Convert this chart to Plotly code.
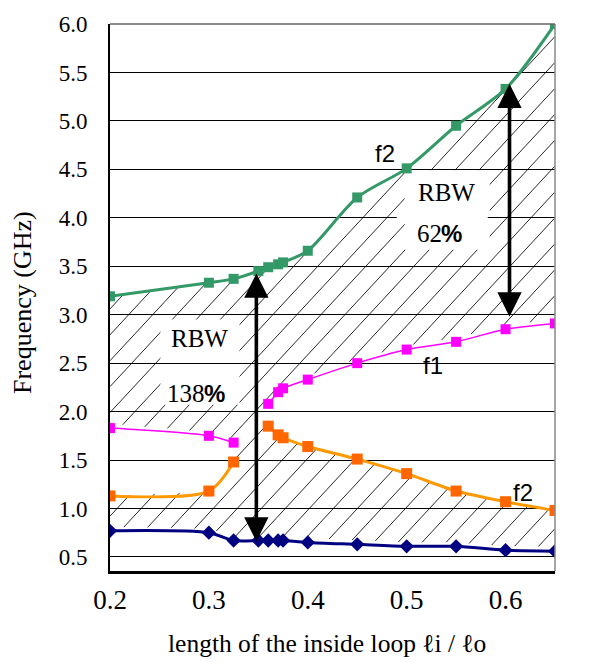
import numpy as np
import plotly.graph_objects as go

# ---------------- data ----------------
x_ratio = [0.2, 0.3, 0.325, 0.35, 0.36, 0.37, 0.375, 0.4, 0.45, 0.5, 0.55, 0.6, 0.65]
f1_low  = [0.77, 0.75, 0.67, 0.67, 0.67, 0.67, 0.67, 0.65, 0.63, 0.61, 0.61, 0.57, 0.56]   # navy
f2_low  = [1.13, 1.18, 1.48, None, 1.85, 1.76, 1.73, 1.64, 1.51, 1.36, 1.18, 1.07, 0.98]   # orange
f1_high = [1.83, 1.75, 1.68, None, 2.08, 2.20, 2.24, 2.33, 2.50, 2.64, 2.72, 2.85, 2.91]   # magenta
f2_high = [3.19, 3.33, 3.37, 3.45, 3.49, 3.52, 3.54, 3.66, 4.21, 4.51, 4.95, 5.33, 6.00]   # green

arrow_x  = [0.348, 0.604]
arrow_lo = [0.66, 2.98]
arrow_hi = [3.44, 5.40]
rbw_values = ["138", "62"]

y_ticks = [0.5, 1.0, 1.5, 2.0, 2.5, 3.0, 3.5, 4.0, 4.5, 5.0, 5.5, 6.0]
x_ticks = [0.2, 0.3, 0.4, 0.5, 0.6]

SERIF = "Liberation Serif"
SANS = "Liberation Sans"

X_RANGE = [0.2, 0.65]
Y_RANGE = [0.355, 6.0]

# ---------------- hatch computation ----------------
xa = np.array(x_ratio)


def interp_valid(vals, xs):
    v = np.array([np.nan if a is None else a for a in vals], dtype=float)
    out = np.full_like(xs, np.nan)
    ok = ~np.isnan(v)
    pieces, cur = [], []
    for i in range(len(v)):
        if ok[i]:
            cur.append(i)
        else:
            if cur:
                pieces.append(cur)
            cur = []
    if cur:
        pieces.append(cur)
    for p in pieces:
        px = xa[p]
        py = v[p]
        m = (xs >= px[0]) & (xs <= px[-1])
        out[m] = np.interp(xs[m], px, py)
    return out


xs = np.arange(X_RANGE[0], X_RANGE[1] + 1e-9, 0.0004)
b_lo = interp_valid(f1_low, xs)
o_lo = interp_valid(f2_low, xs)
m_hi = interp_valid(f1_high, xs)
g_hi = interp_valid(f2_high, xs)
gap = np.isnan(o_lo) | np.isnan(m_hi)

slope = 11.0        # data units y per x
step = 0.0243       # spacing of hatch lines along x
path = []
c = X_RANGE[0] - (Y_RANGE[1] - Y_RANGE[0]) / slope - step
while c < X_RANGE[1]:
    ys = Y_RANGE[0] + slope * (xs - c)
    inA = (~gap) & (ys > b_lo + 0.04) & (ys < o_lo)
    inB = (~gap) & (ys > m_hi + 0.04) & (ys < g_hi)
    inC = gap & (ys > b_lo + 0.04) & (ys < g_hi)
    inside = (inA | inB | inC) & (ys <= Y_RANGE[1]) & (ys >= Y_RANGE[0])
    i = 0
    n = len(xs)
    while i < n:
        if inside[i]:
            j = i
            while j + 1 < n and inside[j + 1]:
                j += 1
            if j > i:
                path.append(f"M{xs[i]:.5f},{ys[i]:.4f}L{xs[j]:.5f},{ys[j]:.4f}")
            i = j + 1
        else:
            i += 1
    c += step

# ---------------- figure ----------------
fig = go.Figure()

fig.add_trace(go.Scatter(x=x_ratio, y=f2_high, mode="lines+markers",
                         line=dict(color="#339966", width=3, shape="spline", smoothing=0.8),
                         marker=dict(symbol="square", size=10, color="#339966")))
fig.add_trace(go.Scatter(x=x_ratio, y=f1_high, mode="lines+markers", connectgaps=False,
                         line=dict(color="#FF00FF", width=1.5, shape="spline", smoothing=0.8),
                         marker=dict(symbol="square", size=10, color="#FF00FF")))
fig.add_trace(go.Scatter(x=x_ratio, y=f2_low, mode="lines+markers", connectgaps=False,
                         line=dict(color="#FF9900", width=3, shape="spline", smoothing=0.8),
                         marker=dict(symbol="square", size=11, color="#FF6600")))
fig.add_trace(go.Scatter(x=x_ratio, y=f1_low, mode="lines+markers",
                         line=dict(color="#000080", width=3, shape="spline", smoothing=0.8),
                         marker=dict(symbol="diamond", size=11, color="#000080")))

shapes = []
shapes.append(dict(type="path", path="".join(path), xref="x", yref="y", layer="below",
                   line=dict(color="black", width=0.85)))
# white boxes behind the RBW texts
shapes.append(dict(type="rect", xref="x", yref="y", layer="below", x0=0.251, x1=0.331, y0=2.07, y1=2.95,
                   fillcolor="white", line=dict(width=0)))
shapes.append(dict(type="rect", xref="x", yref="y", layer="below", x0=0.498, x1=0.584, y0=3.67, y1=4.49,
                   fillcolor="white", line=dict(width=0)))
shapes.append(dict(type="rect", xref="x", yref="y", layer="between", x0=0.49, x1=0.582, y0=3.97, y1=4.03,
                   fillcolor="white", line=dict(width=0)))
# right and top borders
shapes.append(dict(type="line", xref="paper", yref="paper", x0=1, x1=1, y0=0, y1=1,
                   line=dict(color="#888888", width=1.5)))
shapes.append(dict(type="line", xref="paper", yref="paper", x0=0, x1=1, y0=1, y1=1,
                   line=dict(color="#666666", width=1.5)))

annotations = []
for xv, lo, hi in zip(arrow_x, arrow_lo, arrow_hi):
    annotations.append(dict(x=xv, y=lo, ax=xv, ay=hi, xref="x", yref="y", axref="x", ayref="y",
                            text="", showarrow=True, arrowhead=2, arrowside="end+start",
                            arrowsize=1.35, arrowwidth=3.6, arrowcolor="black", standoff=0, startstandoff=0))


def px2x(px):
    return 0.2 + (px - 110) / 989


def py2y(py):
    return 6.0 - (py - 24) / 96.9


# "RBW" labels and percentages (number in serif, bold sans % sign)
for t, px, py in [("RBW", 200, 338), ("RBW", 447, 192)]:
    annotations.append(dict(x=px2x(px), y=py2y(py), xref="x", yref="y", text=t, showarrow=False,
                            font=dict(family=SERIF, size=25, color="black")))
for t, px, py in [(rbw_values[0], 205, 393), (rbw_values[1], 442, 233)]:
    annotations.append(dict(x=px2x(px), y=py2y(py), xref="x", yref="y", text=t, showarrow=False,
                            xanchor="right", xshift=2, font=dict(family=SERIF, size=25, color="black")))
    annotations.append(dict(x=px2x(px), y=py2y(py), xref="x", yref="y", text="<b>%</b>", showarrow=False,
                            xanchor="left", xshift=-3, font=dict(family=SANS, size=24, color="black")))

labels = [
    ("f2", 385, 153),
    ("f1", 433, 365),
    ("f2", 523, 492),
    ("f1", 580, 553),
]
for t, px, py in labels:
    annotations.append(dict(x=px2x(px), y=py2y(py), xref="x", yref="y",
                            text=t, showarrow=False, font=dict(family=SANS, size=24, color="black")))

# axis titles
PLOT_W = 591 - 110 - 36
PLOT_H = 664 - 24 - 93
annotations.append(dict(x=(22 - 110) / PLOT_W, y=(571 - 303) / PLOT_H, xref="paper", yref="paper",
                        text="Frequency (GHz)", textangle=-90, showarrow=False,
                        xanchor="center", yanchor="middle",
                        font=dict(family=SERIF, size=26, color="black")))
annotations.append(dict(x=(327 - 110) / PLOT_W, y=(571 - 643) / PLOT_H, xref="paper", yref="paper",
                        text="length of the inside loop \u2113i / \u2113o", showarrow=False,
                        xanchor="center", yanchor="middle",
                        font=dict(family=SERIF, size=25.5, color="black")))

fig.update_layout(
    width=591, height=664,
    margin=dict(l=110, r=36, t=24, b=93),
    paper_bgcolor="white", plot_bgcolor="white",
    font=dict(family=SERIF, color="black"),
    showlegend=False,
    shapes=shapes,
    annotations=annotations,
    xaxis=dict(range=X_RANGE, tickvals=x_ticks, ticktext=[f"{v:.1f}" for v in x_ticks],
               showgrid=False, zeroline=False,
               showline=True, linecolor="black", linewidth=2.5,
               ticks="outside", ticklen=3, tickcolor="rgba(0,0,0,0)",
               tickfont=dict(family=SERIF, size=27, color="black")),
    yaxis=dict(range=Y_RANGE, tickvals=y_ticks, ticktext=[f"{v:.1f}" for v in y_ticks],
               showgrid=True, gridcolor="black", gridwidth=1, zeroline=False,
               showline=True, linecolor="black", linewidth=2,
               ticks="outside", ticklen=16, tickcolor="rgba(0,0,0,0)",
               tickfont=dict(family=SERIF, size=23, color="black")),
)

fig.write_html("out.html")
